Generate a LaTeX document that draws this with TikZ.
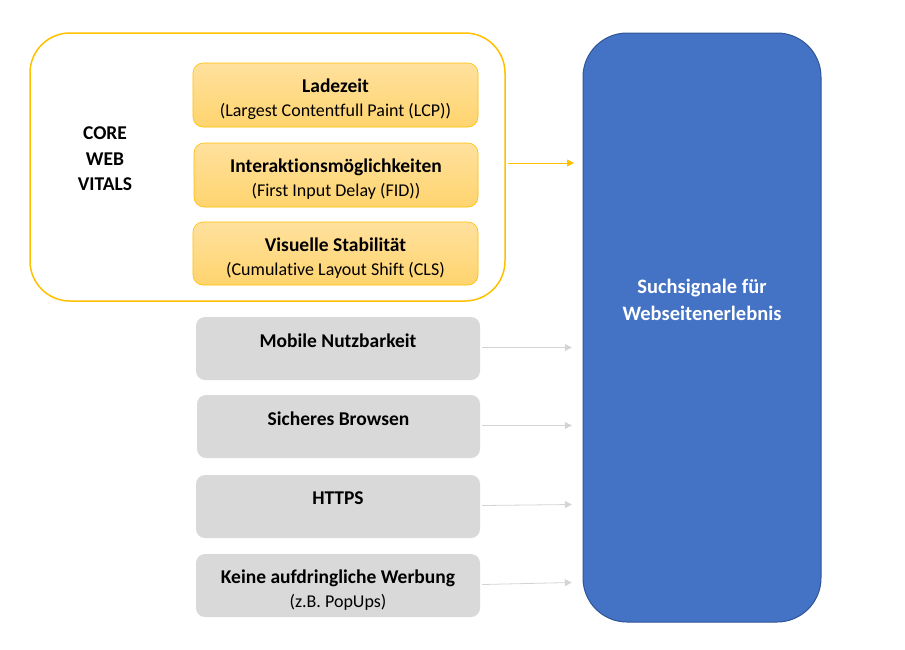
\documentclass[tikz,border=0pt]{standalone}
\usepackage{fontspec}
\setmainfont{Carlito}[Ligatures=NoCommon]
\usetikzlibrary{arrows.meta,calc}
\definecolor{gold}{HTML}{FFC000}
\definecolor{otop}{HTML}{FFE19E}
\definecolor{obot}{HTML}{FFD46E}
\definecolor{greybox}{HTML}{D9D9D9}
\definecolor{greyarrow}{HTML}{D4D4D4}
\definecolor{blue1}{HTML}{4472C4}
\definecolor{blue2}{HTML}{2F5597}
\tikzset{
  outer/.style={draw=gold, line width=1.5pt, rounded corners=40pt, fill=white},
  obox/.style={draw=gold, line width=0.6pt, rounded corners=10pt, top color=otop, bottom color=obot},
  gbox/.style={fill=greybox, rounded corners=9pt},
  bbox/.style={draw=blue2, line width=1pt, fill=blue1, rounded corners=44pt},
  ttl/.style={font=\fontsize{19.5}{22}\selectfont\bfseries, inner sep=0pt, anchor=base},
  sub/.style={font=\fontsize{18}{21}\selectfont, inner sep=0pt, anchor=base},
  garrow/.style={draw=greyarrow, line width=0.8pt, -{Triangle[length=7pt,width=7pt]}},
  oarrow/.style={draw=gold, line width=0.8pt, -{Triangle[length=7pt,width=7pt]}},
}
\begin{document}
\begin{tikzpicture}[x=1pt,y=-1pt]
\useasboundingbox (0,0) rectangle (905,649);
% outer group
\path[outer] (30,33) rectangle (505,301);
\node[font=\fontsize{19.5}{25.5}\selectfont\bfseries, align=center] (cwv) at (105,159) {CORE\\WEB\\VITALS};
% orange boxes
\path[obox] (193,63) rectangle (478,127);
\node[inner sep=0pt, minimum width=285pt, minimum height=64pt] (lcp) at (335.5,95) {};
\node[ttl] at ($(lcp.north)+(0,29.5)$) {Ladezeit};
\node[sub] at ($(lcp.north)+(0,54)$) {(Largest Contentfull Paint (LCP))};
\path[obox] (194,143) rectangle (478,207);
\node[inner sep=0pt, minimum width=284pt, minimum height=64pt] (fid) at (336,175) {};
\node[ttl] at ($(fid.north)+(0,29.5)$) {Interaktionsmöglichkeiten};
\node[sub] at ($(fid.north)+(0,54)$) {(First Input Delay (FID))};
\path[obox] (193,222) rectangle (478,285);
\node[inner sep=0pt, minimum width=285pt, minimum height=63pt] (cls) at (335.5,253.5) {};
\node[ttl] at ($(cls.north)+(0,29.5)$) {Visuelle Stabilität};
\node[sub] at ($(cls.north)+(0,54)$) {(Cumulative Layout Shift (CLS)};
% grey boxes
\node[gbox, minimum width=284pt, minimum height=63pt, inner sep=0pt] (mob) at (338,348.5) {};
\node[ttl] at ($(mob.north)+(0,30.5)$) {Mobile Nutzbarkeit};
\node[gbox, minimum width=283pt, minimum height=63pt, inner sep=0pt] (sich) at (338.5,426.5) {};
\node[ttl] at ($(sich.north)+(0,30.5)$) {Sicheres Browsen};
\node[gbox, minimum width=284pt, minimum height=63pt, inner sep=0pt] (https) at (338,506.5) {};
\node[ttl] at ($(https.north)+(0,30)$) {HTTPS};
\node[gbox, minimum width=284pt, minimum height=63pt, inner sep=0pt] (ads) at (338,585.5) {};
\node[ttl] at ($(ads.north)+(0,29.5)$) {Keine aufdringliche Werbung};
\node[sub] at ($(ads.north)+(0,54)$) {(z.B. PopUps)};
% blue box
\path[bbox] (583,33) rectangle (821,622);
\node[inner sep=0pt, minimum width=238pt, minimum height=589pt] (ss) at (702,327.5) {};
\node[font=\fontsize{20.5}{27}\selectfont\bfseries, text=white, align=center] at (702,300) {Suchsignale für\\Webseitenerlebnis};
% arrows
\coordinate (oa1) at (508,163);
\coordinate (oa2) at (574,163);
\draw[oarrow] (oa1) -- (oa2);
\draw[garrow] ($(mob.east)+(2,-1)$) -- ($(ss.west)+(-11,20)$);
\draw[garrow] ($(sich.east)+(2,-1)$) -- ($(ss.west)+(-11,98)$);
\draw[garrow] ($(https.east)+(2,-1)$) -- ($(ss.west)+(-11,177)$);
\draw[garrow] ($(ads.east)+(2,-1)$) -- ($(ss.west)+(-11,255)$);
\end{tikzpicture}
\end{document}
